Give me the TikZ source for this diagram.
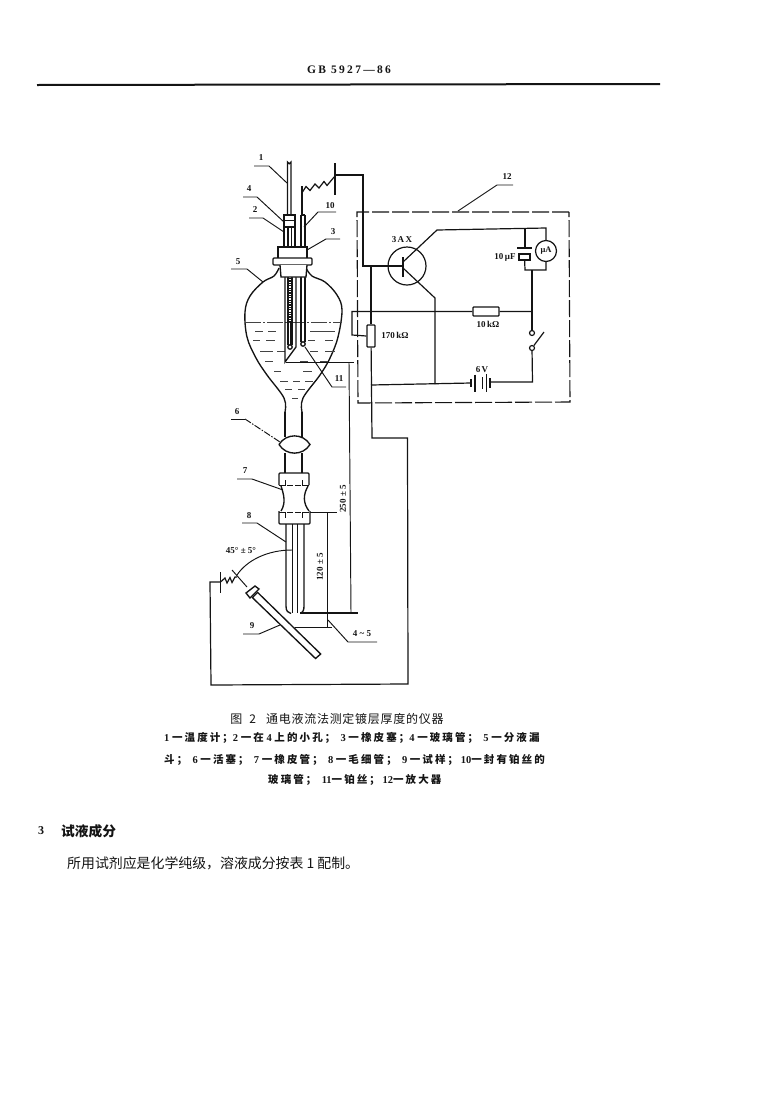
\documentclass[tikz,border=0pt]{standalone}
\usepackage{fontspec}
\setmainfont{Liberation Serif}
\newfontfamily\headfont[LetterSpace=20]{Liberation Serif}
\newfontfamily\cjk{Noto Sans CJK SC}
\newfontfamily\cjkwide[LetterSpace=20]{Noto Sans CJK SC}
\newfontfamily\cjkcap[LetterSpace=6]{Noto Sans CJK SC}
\usetikzlibrary{positioning}
\definecolor{ink}{HTML}{141414}

\begin{document}
\begin{tikzpicture}[
        x=1pt,
        y=-1pt,
        glass/.style={
            draw=ink,
            line width=1.35pt,
        },
        wire/.style={
            draw=ink,
            line width=1.2pt,
        },
        thin-line/.style={
            draw=ink,
            line width=0.95pt,
        },
        amp-frame/.style={
            draw=ink,
            line width=1.1pt,
            dash pattern=on 17pt off 3pt,
        },
        liquid/.style={
            draw=ink!80,
            line width=0.9pt,
        },
        part/.style={
            text=ink,
            font=\fontsize{9}{10}\selectfont\bfseries,
            inner sep=0pt,
        },
        value/.style={
            text=ink,
            font=\fontsize{9}{10}\selectfont\bfseries,
            inner sep=0pt,
        },
        resist/.style={
            draw=ink,
            line width=1.2pt,
            fill=white,
            rounded corners=0.8pt,
            inner sep=0pt,
        },
        contact/.style={
            draw=ink,
            line width=1.2pt,
            circle,
            fill=white,
            inner sep=0pt,
            minimum size=5pt,
        },
        zhline/.style={
            text=ink,
            font=\fontsize{10.5}{12}\selectfont\bfseries,
            inner sep=0pt,
        },
    ]
    \useasboundingbox (0,0) rectangle (781,1106);

    % Page head.
    \node[text=ink, inner sep=0pt, font=\fontsize{11.5}{12}\selectfont\bfseries] (pagehead) at (349,70) {\headfont GB 5927—86};
    \coordinate (rulea) at (37,85);
    \coordinate (ruleb) at (660,84);
    \draw[draw=ink, line width=2pt] (rulea) -- (ruleb);

    % Funnel outline.
    \draw[glass] plot[smooth, tension=0.6] coordinates {(279,268) (274,276) (263,282) (250,296) (245,312) (247,337) (256,358) (267,375) (284,398) (285,412)};
    \draw[glass] plot[smooth, tension=0.6] coordinates {(306,268) (312,276) (325,282) (337,295) (342,310) (338,337) (330,358) (320,375) (303,398) (302,412)};
    \draw[glass] (285,412) -- (285,437);
    \draw[glass] (302,412) -- (302,437);

    % Liquid.
    \draw[liquid, dash pattern=on 16pt off 2pt on 2pt off 2pt] (245,322) -- (342,322);
    \foreach \xa/\xb/\ypos in {
        255/263/331, 268/276/331, 310/335/331,
        253/260/340, 266/275/340, 308/315/340, 325/333/340,
        260/273/351, 277/285/351, 310/318/351, 325/335/351,
        265/273/361, 300/308/361, 320/328/361,
        274/281/371, 303/312/371,
        280/288/381, 293/300/381, 305/313/381,
        285/292/389, 298/305/389,
        292/298/398}
    \draw[liquid] (\xa,\ypos) -- (\xb,\ypos);

    % Thermometer.
    \draw[glass] (287.5,215) -- (287.5,162) arc[start angle=180, end angle=0, radius=1.75] -- (291,215);
    \draw[glass] (288,227) -- (288,247) (291.5,227) -- (291.5,247);
    \draw[glass] (288,277) -- (288,345) (292,277) -- (292,345);
    \draw[glass] (290,347) circle[radius=2.2];
    \draw[draw=ink, line width=1.6pt, dash pattern=on 1.2pt off 1.2pt] (290,278) -- (290,322);
    \draw[draw=ink, line width=0.7pt] (290,322) -- (290,345);

    % Glass tube with side hole.
    \draw[glass, fill=white] (284,215) rectangle (295,227);
    \draw[thin-line] (284,220) -- (295,220);
    \draw[glass] (284,227) -- (284,247) (295,227) -- (295,247);
    \draw[glass] (285,277) -- (285,362) -- (296,347) -- (296,277);

    % Platinum wire tube.
    \draw[glass] (301,215) -- (301,247) (305,215) -- (305,247) (301,215) -- (305,215);
    \draw[glass] (301,277) -- (301,342) (305,277) -- (305,342);
    \draw[glass] (303,344) circle[radius=2.2];

    % Rubber stopper.
    \draw[glass, fill=white] (278,258) -- (278,247) -- (307,247) -- (307,258);
    \draw[glass, fill=white, rounded corners=1pt] (273,258) rectangle (312,265);
    \draw[glass, fill=white] (280,265) -- (281,277) -- (306,277) -- (307,265);

    % Cock.
    \draw[glass, fill=white] (279,444.5) .. controls (286,433) and (303,433) .. (310,444.5) .. controls (303,456) and (286,456) .. (279,444.5);
    \draw[glass] (285,453) -- (285,473) (302,453) -- (302,473);

    % Rubber hose.
    \draw[glass, rounded corners=1pt] (279,485) -- (279,473) -- (309,473) -- (309,485);
    \draw[glass] (281,486) .. controls (284,495) and (286,503) .. (281,511);
    \draw[glass] (308,486) .. controls (303,495) and (303,503) .. (309,511);
    \draw[glass, rounded corners=1pt] (279,511) -- (279,524) -- (310,524) -- (310,511);
    \draw[thin-line, dash pattern=on 6pt off 2pt] (279,485) -- (309,485);
    \draw[thin-line, dash pattern=on 6pt off 2pt] (279,512) -- (310,512);
    \foreach \xpos in {285,302}
    \draw[thin-line] (\xpos,480) -- (\xpos,486) (\xpos,512) -- (\xpos,518);

    % Capillary.
    \draw[glass] (286,524) -- (286,606) .. controls (286,611) and (288,613) .. (291,613.5);
    \draw[glass] (304,524) -- (304,606) .. controls (304,610) and (303,612) .. (301,613.5);
    \draw[thin-line] (292.5,524) -- (292.5,613) (297.5,524) -- (297.5,613);

    % Test piece.
    \draw[glass, fill=white] (257.6,592.4) -- (320.7,654) -- (315.5,658.5) -- (252.4,597.6) -- cycle;
    \draw[glass, fill=white] (246,593) -- (255,586) -- (259,589) -- (250,598) -- cycle;

    % Part labels and their leaders.
    \foreach \tag/\lx/\ly/\ax/\ay/\bx/\by/\cx/\cy in {
        1/261/158/254/166/269/166/287/183,
        4/249/189/243/197/257/197/284/222,
        2/255/210/249/218/263/218/284/232,
        10/330/206/336/212/318/212/304/227,
        3/333/232/340/239/326/239/307/250,
        5/238/262/231/269/247/269/263/282,
        11/339/379/346/387/332/387/305/347,
        7/245/471/237/479/252/479/283/490,
        8/249/516/242/523/257/523/286/542,
        9/252/626/243/634/259/634/280/625,
        12/507/177/513/185/497/185/458/211}
    {
        \node[part] (tag\tag) at (\lx,\ly) {\tag};
        \coordinate (lead\tag a) at (\ax,\ay);
        \coordinate (lead\tag b) at (\bx,\by);
        \coordinate (lead\tag c) at (\cx,\cy);
        \draw[thin-line] (lead\tag a) -- (lead\tag b) -- (lead\tag c);
    }
    \node[part] (tag6) at (237,412) {6};
    \coordinate (lead6a) at (231,419);
    \coordinate (lead6b) at (245,419);
    \coordinate (lead6c) at (280,442);
    \draw[thin-line] (lead6a) -- (lead6b);
    \draw[thin-line, dash pattern=on 7pt off 1.5pt on 1.5pt off 1.5pt] (lead6b) -- (lead6c);

    % Dimensions.
    \coordinate (dimtop) at (286,362);
    \coordinate (dimtopb) at (354,362);
    \draw[thin-line] (dimtop) -- (dimtopb);
    \coordinate (dimmid) at (310,512);
    \coordinate (dimmidb) at (337,512);
    \draw[thin-line] (dimmid) -- (dimmidb);
    \coordinate (dimtip) at (300,613);
    \coordinate (dimtipb) at (358,613);
    \draw[wire] (dimtip) -- (dimtipb);
    \coordinate (dimlow) at (295,627);
    \coordinate (dimlowb) at (332,627);
    \draw[thin-line] (dimlow) -- (dimlowb);
    \draw[thin-line] (349,362) -- (351,613);
    \draw[thin-line] (327,512) -- (327,627);
    \coordinate (gapa) at (328,620);
    \coordinate (gapb) at (348,642);
    \coordinate (gapc) at (377,642);
    \draw[thin-line] (gapa) -- (gapb) -- (gapc);
    \node[value] (gaptext) at (362,634) {4 \textasciitilde\ 5};
    \node[value, rotate=90] (dimlong) at (343,499) {250 ± 5};
    \node[value, rotate=90] (dimshort) at (320,567) {120 ± 5};
    \node[value] (angletext) at (241,551) {45\textdegree\ ± 5\textdegree};
    \draw[thin-line] (237,575) .. controls (247,560) and (268,550) .. (292,550);
    \draw[thin-line] (232,570) -- (247,587);

    % Lower electrode zigzag.
    \draw[wire] (220.5,572) -- (220.5,593);
    \draw[wire] (220.5,582) -- (225,578) -- (227,583) -- (230,577.5) -- (232,582.5) -- (235,577) -- (237,577);

    % Upper electrode zigzag.
    \draw[wire] (302,215) -- (302,186);
    \draw[wire] (302.5,192) -- (306,186.5) -- (310,190.5) -- (315,184) -- (319,188) -- (324,181.5) -- (327,185.5) -- (335,176);
    \draw[wire] (335,163) -- (335,195);

    % Amplifier parts.
    \draw[amp-frame] (569,212) -- (357,212) -- (358,403) -- (570,402) -- cycle;
    \node[draw=ink, line width=1.2pt, circle, inner sep=0pt, minimum size=38pt] (amp) at (407,266) {};
    \node[draw=ink, line width=1.2pt, circle, fill=white, inner sep=0pt, minimum size=21pt, text=ink, font=\fontsize{8.5}{9}\selectfont\bfseries] (meter) at (546,251) {μA};
    \node[resist, minimum width=26pt, minimum height=9pt] (rload) at (486,311.5) {};
    \node[resist, minimum width=8pt, minimum height=22pt] (rpot) at (371,336) {};
    \node[contact] (swa) at (532,333) {};
    \node[contact] (swb) at (532,348) {};
    \node[draw=ink, line width=1.2pt, inner sep=0pt, minimum width=11pt, minimum height=6pt] (cbox) at (524.5,257) {};
    \node[value] (tagamp) at (402,240) {3\,A\,X};
    \node[value] (tagc) at (505,257) {10\,μF};
    \node[value] (tagpot) at (395,335) {170\,kΩ};
    \node[value] (tagload) at (488,324) {10\,kΩ};
    \node[value] (tagbat) at (482,370) {6\,V};

    % Amplifier wires.
    \coordinate (wtopa) at (335,175);
    \coordinate (wtopb) at (363,175);
    \coordinate (wbase) at (363,266);
    \coordinate (jbase) at (371,266);
    \coordinate (basebar) at (403,266);
    \coordinate (barup) at (403,257);
    \coordinate (bardown) at (403,277);
    \coordinate (bend) at (437,230);
    \coordinate (ctop) at (525,228);
    \coordinate (mtop) at (546,228);
    \coordinate (cplatea) at (517,248);
    \coordinate (cplateb) at (532,248);
    \coordinate (cjoin) at (525,270);
    \coordinate (mjoin) at (546,270);
    \coordinate (sjoin) at (532,270);
    \coordinate (sload) at (532,311.5);
    \coordinate (potin) at (352,311.5);
    \coordinate (potdown) at (352,335);
    \coordinate (blade) at (544,332);
    \coordinate (batr) at (532.5,382);
    \coordinate (batend) at (490,382);
    \coordinate (batstart) at (471,383);
    \coordinate (jbat) at (371,385);
    \coordinate (emit) at (435,298);
    \coordinate (emitdown) at (435,384);
    \coordinate (jcol) at (403,262);
    \coordinate (jemit) at (403,268);
    \coordinate (downa) at (372,438);
    \coordinate (downb) at (407.5,438);
    \coordinate (downc) at (408,684);
    \coordinate (downd) at (211,685);
    \coordinate (downe) at (210,582);
    \coordinate (downf) at (220.5,582);

    \draw[wire] (wtopa) -- (wtopb) -- (wbase) -- (basebar);
    \draw[wire, line width=1.5pt] (barup) -- (bardown);
    \draw[wire] (jcol) -- (bend) -- (mtop) -- (meter);
    \draw[wire] (jemit) -- (emit) -- (emitdown);
    \draw[wire] (ctop) -- (cplatea -| ctop);
    \draw[wire, line width=1.5pt] (cplatea) -- (cplateb);
    \draw[wire] (cbox) -- (cjoin) -- (mjoin) -- (meter);
    \draw[wire] (sjoin) -- (swa);
    \draw[wire] (swb) -- (batr) -- (batend);
    \draw[wire] (swb) -- (blade);
    \draw[wire] (sload) -- (rload) -- (potin) -- (potdown) -- (rpot.west);
    \draw[wire] (jbase) -- (rpot);
    \draw[wire] (rpot) -- (downa) -- (downb) -- (downc) -- (downd) -- (downe) -- (downf);
    \draw[wire] (jbat) -- (batstart);

    % Battery plates.
    \foreach \xpos/\half in {471/4, 475/8.5, 482.7/6, 486.7/9, 490/5}
    \draw[wire] (\xpos,383-\half) -- (\xpos,383+\half);

    % Caption.
    \node[text=ink, inner sep=0pt, font=\fontsize{12}{13}\selectfont] (capmain) at (337,719) {\cjkcap 图\ \ 2\ \ \ 通电液流法测定镀层厚度的仪器};
    \node[zhline, anchor=west] (capa) at (164,738) {1 {\cjkwide 一温度计；}2 {\cjkwide 一在} 4 {\cjkwide 上的小孔；} \ 3 {\cjkwide 一橡皮塞；}4 {\cjkwide 一玻璃管；} \ 5 {\cjkwide 一分液漏}};
    \node[zhline, anchor=west] (capb) at (164,760) {{\cjkwide 斗；} \ 6 {\cjkwide 一活塞；} \ 7 {\cjkwide 一橡皮管；} \ 8 {\cjkwide 一毛细管；} \ 9 {\cjkwide 一试样；} 10{\cjkwide 一封有铂丝的}};
    \node[zhline, anchor=west] (capc) at (268,780) {{\cjkwide 玻璃管；}\ \ 11{\cjkwide 一铂丝；}\ 12{\cjkwide 一放大器}};

    % Clause 3.
    \node[text=ink, inner sep=0pt, anchor=west, font=\fontsize{12}{14}\selectfont\bfseries] (secnum) at (38,831) {3};
    \node[text=ink, inner sep=0pt, anchor=west, font=\fontsize{13.7}{15}\selectfont\bfseries] (sechead) at (61,831) {\cjk 试液成分};
    \node[text=ink, inner sep=0pt, anchor=west, font=\fontsize{13.9}{15}\selectfont] (secbody) at (67,863) {\cjk 所用试剂应是化学纯级，溶液成分按表 1 配制。};
\end{tikzpicture}
\end{document}
